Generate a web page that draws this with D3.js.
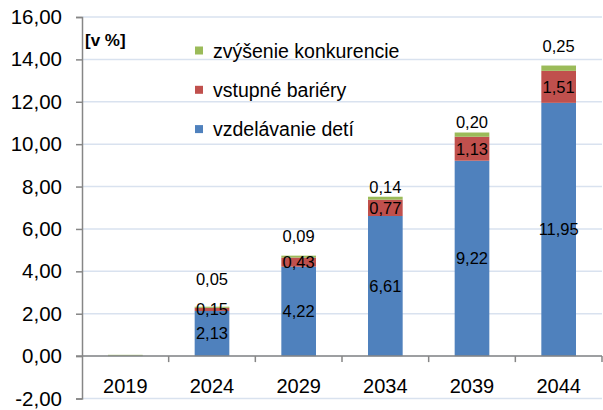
<!DOCTYPE html>
<html>
<head>
<meta charset="utf-8">
<script src="https://cdn.jsdelivr.net/npm/d3@7"></script>
<style>
	body { margin: 0; background: #fff; }
	svg { display: block; font-family: "Liberation Sans", Arial, sans-serif; }
</style>
</head>
<body>
<svg class="chart" width="603" height="410"></svg>
<script>
//chart data
let years = ["2019", "2024", "2029", "2034", "2039", "2044"];
let vzdelavanie = [0.02, 2.13, 4.22, 6.61, 9.22, 11.95];
let bariery = [0.00, 0.15, 0.43, 0.77, 1.13, 1.51];
let konkurencia = [0.04, 0.05, 0.09, 0.14, 0.20, 0.25];
let showLabels = [false, true, true, true, true, true];
let yTicks = [-2, 0, 2, 4, 6, 8, 10, 12, 14, 16];

//series, bottom to top
let series = [
	{name: "vzdelávanie detí", values: vzdelavanie, color: "#4f81bd"},
	{name: "vstupné bariéry", values: bariery, color: "#c0504d"},
	{name: "zvýšenie konkurencie", values: konkurencia, color: "#9bbb59"}
];

//manual nudges of the top labels (px above bar top), like in the original
let topLabelLift = [0, 28, 20, 10, 10, 19];

let svg = d3.select(".chart"),
	plot = {left: 82, right: 602, top: 17, bottom: 398.5};

let x = d3.scaleBand()
	.domain(years)
	.range([plot.left, plot.right])
	.paddingInner(0.6)
	.paddingOuter(0.3);

let y = d3.scaleLinear()
	.domain([-2, 16])
	.range([plot.bottom, plot.top]);

//excel style numbers: comma decimals, plain hyphen minus
let fmt = function(v){ return v.toFixed(2).replace(".", ","); };

//gridlines
svg.append("g")
	.attr("class", "grid")
	.selectAll("line")
	.data(yTicks)
	.enter()
	.append("line")
	.attr("x1", plot.left)
	.attr("x2", plot.right)
	.attr("y1", function(d){ return y(d); })
	.attr("y2", function(d){ return y(d); })
	.style("stroke", "#d9e2ef")
	.style("stroke-width", 1.5);

//stacked bars
let stackData = years.map(function(yr, i){
	let base = 0;
	return series.map(function(s){
		let seg = {year: yr, i: i, y0: base, y1: base + s.values[i], v: s.values[i], color: s.color};
		base += s.values[i];
		return seg;
	});
});

let barGroups = svg.append("g").attr("class", "bars")
	.selectAll("g")
	.data(stackData)
	.enter()
	.append("g");

barGroups.selectAll("rect")
	.data(function(d){ return d; })
	.enter()
	.append("rect")
	.attr("x", function(d){ return x(d.year); })
	.attr("width", x.bandwidth())
	.attr("y", function(d){ return y(d.y1); })
	.attr("height", function(d){ return Math.max(0, y(d.y0) - y(d.y1)); })
	.style("fill", function(d){ return d.color; });

//y axis
let yAxis = svg.append("g")
	.attr("class", "y-axis")
	.attr("transform", "translate(" + plot.left + ",0)")
	.call(d3.axisLeft(y).tickValues(yTicks).tickSize(6).tickPadding(14).tickFormat(fmt));

yAxis.select(".domain").style("stroke", "#868686").style("stroke-width", 1.5);
yAxis.selectAll(".tick line").style("stroke", "#868686").style("stroke-width", 1.5);
yAxis.selectAll("text")
	.style("font-size", "20.5px")
	.style("fill", "#000");

//x axis at zero
let xAxis = svg.append("g")
	.attr("class", "x-axis")
	.attr("transform", "translate(0," + y(0) + ")")
	.call(d3.axisBottom(x).tickSize(0).tickPadding(23));

xAxis.select(".domain").remove();
xAxis.append("line")
	.attr("x1", plot.left - 6)
	.attr("x2", plot.right)
	.style("stroke", "#868686")
	.style("stroke-width", 1.5);
xAxis.selectAll("text")
	.style("font-size", "20px")
	.style("fill", "#000");

//category boundary ticks
let step = x.step();
xAxis.selectAll(".cat-tick")
	.data(d3.range(1, years.length + 1))
	.enter()
	.append("line")
	.attr("class", "cat-tick")
	.attr("x1", function(d){ return plot.left + d * step; })
	.attr("x2", function(d){ return plot.left + d * step; })
	.attr("y1", 0)
	.attr("y2", 6)
	.style("stroke", "#868686")
	.style("stroke-width", 1.5);

//data labels
let labels = svg.append("g").attr("class", "labels")
	.style("font-size", "16.5px")
	.style("fill", "#000")
	.attr("text-anchor", "middle");

stackData.forEach(function(segs, i){
	if(!showLabels[i]) return;
	let cx = x(years[i]) + x.bandwidth() / 2;
	segs.forEach(function(d, k){
		let ty;
		if(k < 2){
			ty = y((d.y0 + d.y1) / 2);
		} else {
			ty = y(d.y1) - topLabelLift[i];
		}
		labels.append("text")
			.attr("x", cx)
			.attr("y", ty)
			.attr("dy", "0.36em")
			.text(fmt(d.v));
	});
});

//unit label
svg.append("text")
	.attr("x", 85)
	.attr("y", 46)
	.style("font-size", "17px")
	.style("font-weight", "bold")
	.text("[v %]");

//legend
let legend = svg.append("g").attr("class", "legend");
let legendRows = series.slice().reverse();
legendRows.forEach(function(s, i){
	let cy = 50.5 + i * 39.3;
	legend.append("rect")
		.attr("x", 195)
		.attr("y", cy - 4)
		.attr("width", 8)
		.attr("height", 8)
		.style("fill", s.color);
	legend.append("text")
		.attr("x", 213)
		.attr("y", cy)
		.attr("dy", "0.36em")
		.style("font-size", "19.5px")
		.text(s.name);
});
</script>
</body>
</html>
